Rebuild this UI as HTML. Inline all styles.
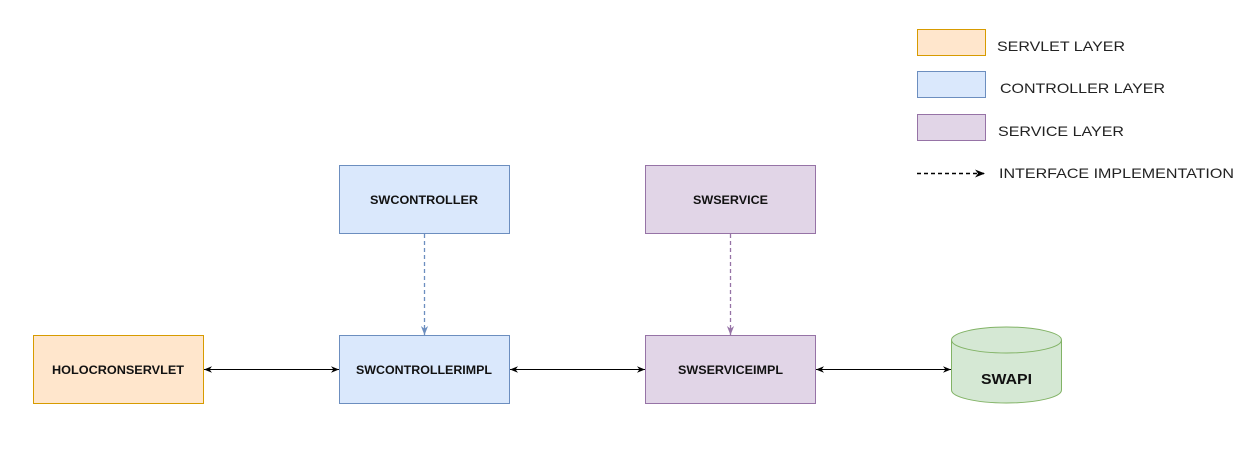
<!DOCTYPE html>
<html><head><style>html,body{margin:0;padding:0;background:#fff}</style></head><body>
<svg width="1257" height="444" viewBox="0 0 1257 444" xmlns="http://www.w3.org/2000/svg" font-family="Liberation Sans, sans-serif">
<defs>
<marker id="a" viewBox="0 0 10 10" refX="10" refY="5" markerWidth="8" markerHeight="8" orient="auto-start-reverse" markerUnits="userSpaceOnUse"><path d="M0,1 L10,5 L0,9 L3,5 Z" fill="#000"/></marker>
<marker id="ab" viewBox="0 0 10 10" refX="10" refY="5" markerWidth="9" markerHeight="9" orient="auto" markerUnits="userSpaceOnUse"><path d="M0,1 L10,5 L0,9 L3,5 Z" fill="#6c8ebf"/></marker>
<marker id="ap" viewBox="0 0 10 10" refX="10" refY="5" markerWidth="9" markerHeight="9" orient="auto" markerUnits="userSpaceOnUse"><path d="M0,1 L10,5 L0,9 L3,5 Z" fill="#9673a6"/></marker>
<marker id="ak" viewBox="0 0 10 10" refX="10" refY="5" markerWidth="10" markerHeight="10" orient="auto" markerUnits="userSpaceOnUse"><path d="M0,1 L10,5 L0,9 L3,5 Z" fill="#000"/></marker>
</defs>
<rect x="917.5" y="29.5" width="68" height="26" fill="#ffe6cc" stroke="#d79b00"/>
<rect x="917.5" y="71.5" width="68" height="26" fill="#dae8fc" stroke="#6c8ebf"/>
<rect x="917.5" y="114.5" width="68" height="26" fill="#e1d5e7" stroke="#9673a6"/>
<line x1="917" y1="173.5" x2="985" y2="173.5" stroke="#000" stroke-width="1.5" stroke-dasharray="4,3" marker-end="url(#ak)"/>
<g font-size="14" fill="#222">
<text x="997" y="51" textLength="128" lengthAdjust="spacingAndGlyphs">SERVLET LAYER</text>
<text x="1000" y="93" textLength="165" lengthAdjust="spacingAndGlyphs">CONTROLLER LAYER</text>
<text x="998" y="136" textLength="126" lengthAdjust="spacingAndGlyphs">SERVICE LAYER</text>
<text x="999" y="178" textLength="235" lengthAdjust="spacingAndGlyphs">INTERFACE IMPLEMENTATION</text>
</g>
<rect x="33.5" y="335.5" width="170" height="68" fill="#ffe6cc" stroke="#d79b00"/>
<rect x="339.5" y="335.5" width="170" height="68" fill="#dae8fc" stroke="#6c8ebf"/>
<rect x="645.5" y="335.5" width="170" height="68" fill="#e1d5e7" stroke="#9673a6"/>
<rect x="339.5" y="165.5" width="170" height="68" fill="#dae8fc" stroke="#6c8ebf"/>
<rect x="645.5" y="165.5" width="170" height="68" fill="#e1d5e7" stroke="#9673a6"/>
<g font-size="12" font-weight="bold" fill="#111">
<text x="52" y="374" textLength="132" lengthAdjust="spacingAndGlyphs">HOLOCRONSERVLET</text>
<text x="356" y="374" textLength="136" lengthAdjust="spacingAndGlyphs">SWCONTROLLERIMPL</text>
<text x="678" y="374" textLength="105" lengthAdjust="spacingAndGlyphs">SWSERVICEIMPL</text>
<text x="370" y="204" textLength="108" lengthAdjust="spacingAndGlyphs">SWCONTROLLER</text>
<text x="693" y="204" textLength="75" lengthAdjust="spacingAndGlyphs">SWSERVICE</text>
</g>
<path d="M951.5,340 L951.5,390 A55,13 0 0 0 1061.5,390 L1061.5,340" fill="#d5e8d4" stroke="#82b366"/>
<ellipse cx="1006.5" cy="340" rx="55" ry="13" fill="#d5e8d4" stroke="#82b366"/>
<text x="981" y="384" font-size="15" font-weight="bold" fill="#111" textLength="51" lengthAdjust="spacingAndGlyphs">SWAPI</text>
<line x1="204" y1="369.5" x2="339" y2="369.5" stroke="#000" marker-start="url(#a)" marker-end="url(#a)"/>
<line x1="510" y1="369.5" x2="645" y2="369.5" stroke="#000" marker-start="url(#a)" marker-end="url(#a)"/>
<line x1="816" y1="369.5" x2="951" y2="369.5" stroke="#000" marker-start="url(#a)" marker-end="url(#a)"/>
<line x1="424.5" y1="234" x2="424.5" y2="335" stroke="#6c8ebf" stroke-width="1.3" stroke-dasharray="4,3" marker-end="url(#ab)"/>
<line x1="730.5" y1="234" x2="730.5" y2="335" stroke="#9673a6" stroke-width="1.3" stroke-dasharray="4,3" marker-end="url(#ap)"/>
</svg>
</body></html>
